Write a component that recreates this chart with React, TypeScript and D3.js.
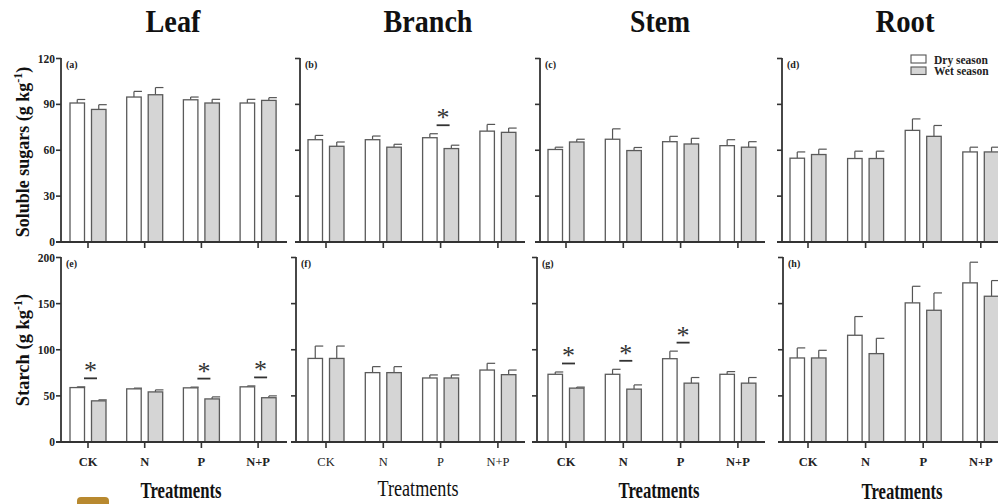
import React from 'react';
import * as d3 from 'd3';

const organs = ['Leaf', 'Branch', 'Stem', 'Root'];
const categories = ['CK', 'N', 'P', 'N+P'];
const panelLetters = [
  ['(a)', '(b)', '(c)', '(d)'],
  ['(e)', '(f)', '(g)', '(h)'],
];
const sugarTicks = [0, 30, 60, 90, 120];
const starchTicks = [0, 50, 100, 150, 200];

// soluble sugars (g kg-1), one array per organ
const sugarDry = [
  [90.9, 94.8, 93.0, 90.9],
  [66.9, 66.9, 68.2, 72.5],
  [60.5, 67.2, 65.6, 63.0],
  [54.8, 54.6, 73.0, 58.9],
];
const sugarDryErr = [
  [2.3, 3.7, 1.8, 2.4],
  [2.8, 2.4, 2.6, 4.4],
  [1.5, 6.8, 3.5, 3.9],
  [4.1, 4.8, 7.5, 3.1],
];
const sugarWet = [
  [86.7, 96.3, 90.9, 92.6],
  [62.6, 62.0, 61.1, 71.7],
  [65.4, 59.8, 64.1, 62.0],
  [57.2, 54.6, 69.1, 58.9],
];
const sugarWetErr = [
  [3.1, 4.7, 2.4, 1.8],
  [2.8, 1.9, 2.2, 2.8],
  [1.8, 2.0, 3.7, 3.6],
  [3.5, 4.8, 7.1, 3.1],
];

// starch (g kg-1)
const starchDry = [
  [59.0, 57.6, 58.7, 59.8],
  [90.6, 75.2, 69.4, 78.0],
  [73.4, 73.4, 90.3, 73.4],
  [91.1, 115.7, 150.8, 172.5],
];
const starchDryErr = [
  [0.8, 0.8, 0.8, 1.0],
  [13.4, 6.5, 3.3, 7.3],
  [2.5, 5.4, 8.2, 2.9],
  [10.9, 20.3, 18.0, 22.4],
];
const starchWet = [
  [44.6, 54.3, 46.7, 48.0],
  [90.6, 75.2, 69.4, 73.0],
  [58.4, 57.3, 63.8, 63.8],
  [91.1, 95.8, 142.8, 158.0],
];
const starchWetErr = [
  [1.1, 2.2, 2.2, 2.0],
  [13.4, 6.5, 3.3, 5.0],
  [1.1, 4.6, 6.1, 6.1],
  [8.3, 16.6, 18.8, 17.0],
];

// significant dry vs wet differences
const sugarSig = [[], ['P'], [], []];
const starchSig = [['CK', 'P', 'N+P'], [], ['CK', 'N', 'P'], []];

const FONT = "'Liberation Serif', 'Times New Roman', serif";
const W = 998;
const H = 504;
const axisX = [
  [61, 300, 540, 782],
  [61, 296, 537, 783],
];
const catStart = [88, 326, 566, 808];
const catStep = [56.7, 57.3, 57.3, 57.6];
const rowBox = [
  { top: 58.5, bottom: 242 },
  { top: 257.5, bottom: 442 },
];
const titleWidth = [55, 89, 60, 59];
const treatX = [181, 418, 659, 902];
const treatY = [498, 496, 498, 498.5];

function Panel({ row, col }) {
  const ticks = row === 0 ? sugarTicks : starchTicks;
  const dry = row === 0 ? sugarDry[col] : starchDry[col];
  const dryErr = row === 0 ? sugarDryErr[col] : starchDryErr[col];
  const wet = row === 0 ? sugarWet[col] : starchWet[col];
  const wetErr = row === 0 ? sugarWetErr[col] : starchWetErr[col];
  const sig = row === 0 ? sugarSig[col] : starchSig[col];
  const { top, bottom } = rowBox[row];
  const ax = axisX[row][col];

  const y = d3.scaleLinear().domain([0, d3.max(ticks)]).range([bottom, top]);
  const x = d3
    .scalePoint()
    .domain(categories)
    .range([catStart[col], catStart[col] + 3 * catStep[col]]);
  const barW = 14.5;
  const capW = 8;
  const axisEnd = catStart[col] + 199;
  const bold = !(row === 1 && col === 1);

  const series = [
    { vals: dry, errs: dryErr, fill: '#ffffff', dx: -18 },
    { vals: wet, errs: wetErr, fill: '#d5d5d5', dx: 3.5 },
  ];

  return (
    <g>
      {series.map((s, si) =>
        categories.map((c, i) => {
          const bx = x(c) + s.dx;
          const cx = bx + barW / 2;
          const yTop = y(s.vals[i]);
          const yErr = y(s.vals[i] + s.errs[i]);
          return (
            <g key={`${si}-${c}`}>
              <line x1={cx} x2={cx} y1={yTop} y2={yErr} stroke="#555" strokeWidth={1.2} />
              <line x1={cx} x2={cx + capW} y1={yErr} y2={yErr} stroke="#555" strokeWidth={1.2} />
              <rect
                x={bx}
                y={yTop}
                width={barW}
                height={bottom - yTop}
                fill={s.fill}
                stroke="#5a5a5a"
                strokeWidth={1.3}
              />
            </g>
          );
        })
      )}

      {sig.map((c) => {
        const i = categories.indexOf(c);
        const errTop = Math.min(y(dry[i] + dryErr[i]), y(wet[i] + wetErr[i]));
        const ly = errTop - 8.5;
        const cx = x(c) + 2.5;
        return (
          <g key={`sig-${c}`}>
            <line x1={cx - 6.5} x2={cx + 6.5} y1={ly} y2={ly} stroke="#333" strokeWidth={1.8} />
            <text x={cx} y={ly + 1} textAnchor="middle" fontSize={26} fontFamily={FONT} fill="#333">
              *
            </text>
          </g>
        );
      })}

      {/* y axis */}
      <line x1={ax} x2={ax} y1={top - 0.5} y2={bottom} stroke="#333" strokeWidth={1.8} />
      {ticks.map((t) => (
        <g key={`yt-${t}`}>
          <line x1={ax - 5} x2={ax} y1={y(t)} y2={y(t)} stroke="#333" strokeWidth={1.6} />
          {col === 0 && (
            <text
              x={ax - 6}
              y={y(t) + 4}
              textAnchor="end"
              fontSize={11.5}
              fontWeight="bold"
              fontFamily={FONT}
              fill="#222"
            >
              {t}
            </text>
          )}
        </g>
      ))}

      {/* x axis */}
      <line x1={ax - 5} x2={axisEnd} y1={bottom} y2={bottom} stroke="#333" strokeWidth={1.8} />
      {categories.map((c) => (
        <g key={`xt-${c}`}>
          <line x1={x(c)} x2={x(c)} y1={bottom} y2={bottom + 6} stroke="#333" strokeWidth={1.6} />
          {row === 1 && (
            <text
              x={x(c)}
              y={bottom + 24}
              textAnchor="middle"
              fontSize={12.5}
              fontWeight={bold ? 'bold' : 'normal'}
              fontFamily={FONT}
              fill="#222"
            >
              {c}
            </text>
          )}
        </g>
      ))}

      <text x={ax + 5} y={top + 9} fontSize={10} fontWeight="bold" fontFamily={FONT} fill="#222">
        {panelLetters[row][col]}
      </text>

      {row === 1 && (
        <text
          x={treatX[col]}
          y={treatY[col]}
          textAnchor="middle"
          fontSize={24}
          fontWeight={bold ? 'bold' : 'normal'}
          fontFamily={FONT}
          fill="#111"
          textLength={81}
          lengthAdjust="spacingAndGlyphs"
        >
          Treatments
        </text>
      )}
    </g>
  );
}

export default function App() {
  const titleX = [173, 428, 660, 905];
  return (
    <svg
      width={W}
      height={H}
      style={{ position: 'absolute', left: 0, top: 0, display: 'block', background: '#fff' }}
    >
      <rect x={0} y={0} width={W} height={H} fill="#fff" />
      {organs.map((o, i) => (
        <text
          key={o}
          x={titleX[i]}
          y={32}
          textAnchor="middle"
          fontSize={31}
          fontWeight="bold"
          fontFamily={FONT}
          fill="#111"
          textLength={titleWidth[i]}
          lengthAdjust="spacingAndGlyphs"
        >
          {o}
        </text>
      ))}

      {[0, 1].map((r) => organs.map((o, c) => <Panel key={`${r}-${c}`} row={r} col={c} />))}

      <text
        transform="translate(29,152) rotate(-90)"
        textAnchor="middle"
        fontSize={18}
        fontWeight="bold"
        fontFamily={FONT}
        fill="#111"
      >
        Soluble sugars (g kg<tspan dy={-7} fontSize={12}>-1</tspan>
        <tspan dy={7}>)</tspan>
      </text>
      <text
        transform="translate(29,350) rotate(-90)"
        textAnchor="middle"
        fontSize={18.5}
        fontWeight="bold"
        fontFamily={FONT}
        fill="#111"
      >
        Starch (g kg<tspan dy={-7} fontSize={12}>-1</tspan>
        <tspan dy={7}>)</tspan>
      </text>

      {/* legend */}
      <rect x={911} y={55} width={15} height={8} fill="#fff" stroke="#555" strokeWidth={1.1} />
      <rect x={911} y={67} width={15} height={7.5} fill="#d5d5d5" stroke="#555" strokeWidth={1.1} />
      <text x={934} y={63.5} fontSize={11.5} fontWeight="bold" fontFamily={FONT} fill="#222">
        Dry season
      </text>
      <text x={934} y={75} fontSize={11.5} fontWeight="bold" fontFamily={FONT} fill="#222">
        Wet season
      </text>

      <rect x={77} y={497} width={32} height={14} rx={4} fill="#b8892f" />
    </svg>
  );
}
